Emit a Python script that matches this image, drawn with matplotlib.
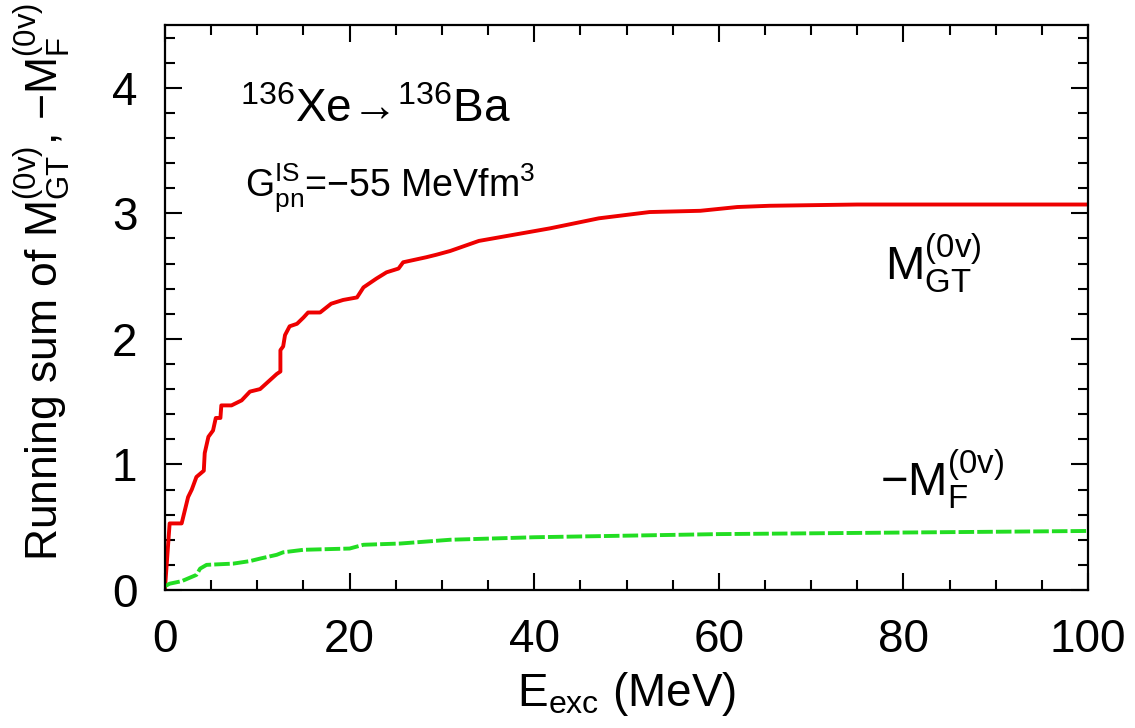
import numpy as np
import matplotlib
matplotlib.use('Agg')
import matplotlib.pyplot as plt
from matplotlib.ticker import MultipleLocator

plt.rcParams['font.family'] = ['Liberation Sans', 'DejaVu Sans']
plt.rcParams['mathtext.default'] = 'regular'

# running sum of M_GT
e_gt = [0, 0.5, 1.8, 2.5, 2.9, 3.4, 4.2, 4.3, 4.7, 5.2, 5.5, 6.0, 6.1, 7.2, 8.3, 9.2,
        10.3, 12.1, 12.5, 12.5, 12.8, 13.0, 13.5, 14.3, 15.0, 15.5, 16.8, 18.0, 19.3,
        20.8, 21.5, 22.9, 24.0, 25.3, 25.8, 28.3, 29.4, 30.9, 34.0, 41.7, 47.0, 52.5,
        58.0, 62.0, 65.5, 75.0, 100.0]
m_gt = [0.02, 0.53, 0.53, 0.74, 0.80, 0.90, 0.95, 1.09, 1.22, 1.27, 1.37, 1.37, 1.47,
        1.47, 1.51, 1.58, 1.60, 1.72, 1.74, 1.91, 1.94, 2.03, 2.10, 2.12, 2.17, 2.21,
        2.21, 2.28, 2.31, 2.33, 2.41, 2.48, 2.53, 2.56, 2.61, 2.65, 2.67, 2.70, 2.78,
        2.88, 2.96, 3.01, 3.02, 3.05, 3.06, 3.07, 3.07]

# running sum of -M_F
e_f = [0, 0.5, 1.8, 3.4, 3.8, 4.5, 7.4, 9.2, 10.3, 12.1, 12.8, 15.0, 20.0, 21.5, 25.5,
       30.9, 40.0, 60.0, 100.0]
m_f = [0.03, 0.05, 0.07, 0.12, 0.17, 0.20, 0.21, 0.23, 0.25, 0.28, 0.30, 0.32, 0.33,
       0.36, 0.37, 0.40, 0.42, 0.445, 0.47]

fig = plt.figure(figsize=(11.35, 7.28), dpi=100)
ax = fig.add_axes([0.1454, 0.1896, 0.8132, 0.7761])

ax.plot(e_gt, m_gt, color='#ee0000', lw=2.8)
ax.plot(e_f, m_f, color='#22dd22', lw=2.8, linestyle=(0, (4, 0.8)))

ax.set_xlim(0, 100)
ax.set_ylim(0, 4.5)
ax.xaxis.set_major_locator(MultipleLocator(20))
ax.xaxis.set_minor_locator(MultipleLocator(5))
ax.yaxis.set_major_locator(MultipleLocator(1))
ax.yaxis.set_minor_locator(MultipleLocator(0.2))
ax.tick_params(which='both', direction='in', top=True, right=True, width=1.5,
               labelsize=33)
ax.tick_params(axis='x', pad=20)
ax.tick_params(axis='y', pad=20)
ax.tick_params(which='major', length=12)
ax.tick_params(which='minor', length=7)
for s in ax.spines.values():
    s.set_linewidth(1.6)

ax.set_xlabel('E$_{exc}$ (MeV)', fontsize=33, labelpad=6)
ax.set_ylabel('Running sum of M$_{GT}^{(0v)}$, \u2212M$_{F}^{(0v)}$', fontsize=32)
ax.yaxis.set_label_coords(-0.10, 0.545)

ax.text(8.1, 3.82, '$^{136}$Xe\u2192$^{136}$Ba', fontsize=33, va='center')
ax.text(8.7, 3.2, 'G$_{pn}^{IS}$=\u221255 MeVfm$^3$', fontsize=27, va='center')
ax.text(78, 2.6, 'M$_{GT}^{(0v)}$', fontsize=34, va='center')
ax.text(77.5, 0.88, '\u2212M$_{F}^{(0v)}$', fontsize=34, va='center')

fig.savefig('out.png', dpi=100)
